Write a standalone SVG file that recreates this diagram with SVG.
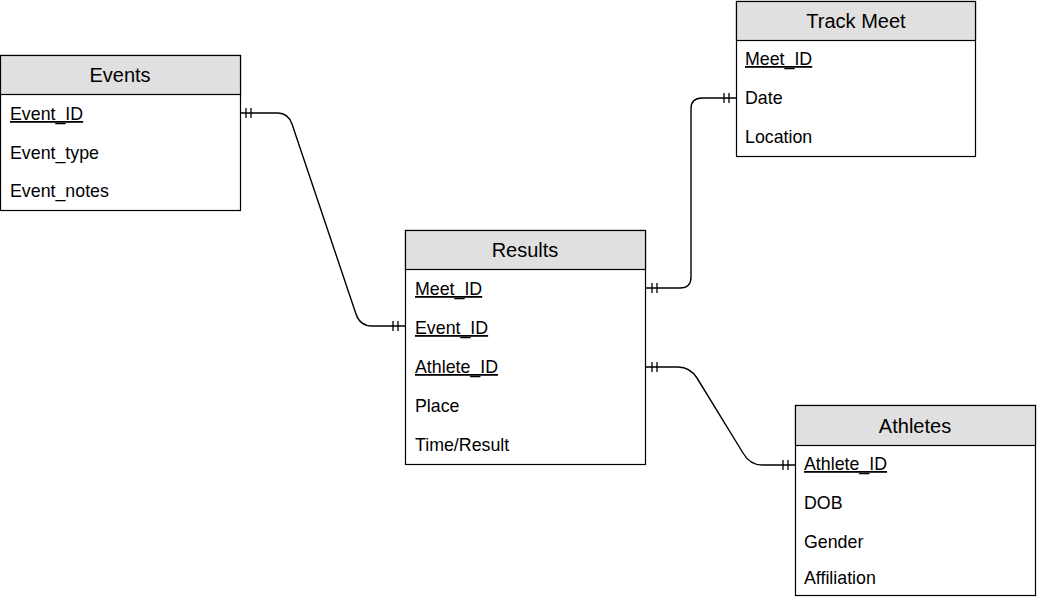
<svg xmlns="http://www.w3.org/2000/svg" width="1037" height="600" viewBox="0 0 1037 600">
<style>
.box{fill:#ffffff;stroke:#000000;stroke-width:1.2}
.hdr{fill:#e0e0e0;stroke:#000000;stroke-width:1.2}
.title{font-family:"Liberation Sans",Arial,sans-serif;font-size:20px;fill:#000;text-anchor:middle}
.fld{font-family:"Liberation Sans",Arial,sans-serif;font-size:17.8px;fill:#000}
.pk{text-decoration:underline}
.conn{fill:none;stroke:#000;stroke-width:1.4}
.bar{stroke:#000;stroke-width:1.3}
</style>
<rect width="1037" height="600" fill="#ffffff"/>
<g id="connectors">
  <path class="conn" d="M240,113 L278,113 Q288,113 292,124 L356,314 Q360,326 372,326 L405,326"/>
  <path class="bar" d="M246,108 V118 M251,108 V118 M393,321 V331 M398,321 V331"/>
  <path class="conn" d="M645,288 L680,288 Q691,288 691,277 L691,109 Q691,98 702,98 L736,98"/>
  <path class="bar" d="M652,283 V293 M657,283 V293 M724,93 V103 M729,93 V103"/>
  <path class="conn" d="M645,367 L678,367 Q690,367 697,378 L743,453 Q750,465 762,465 L795,465"/>
  <path class="bar" d="M652,362 V372 M657,362 V372 M783,460 V470 M788,460 V470"/>
</g>
<g id="events">
  <rect class="box" x="0.5" y="55.5" width="240" height="155"/>
  <rect class="hdr" x="0.5" y="55.5" width="240" height="39"/>
  <text class="title" x="120" y="82">Events</text>
  <text class="fld pk" x="10" y="120">Event_ID</text>
  <text class="fld" x="10" y="159">Event_type</text>
  <text class="fld" x="10" y="197">Event_notes</text>
</g>
<g id="results">
  <rect class="box" x="405.5" y="230.5" width="240" height="234"/>
  <rect class="hdr" x="405.5" y="230.5" width="240" height="39"/>
  <text class="title" x="525" y="257">Results</text>
  <text class="fld pk" x="415" y="295">Meet_ID</text>
  <text class="fld pk" x="415" y="334">Event_ID</text>
  <text class="fld pk" x="415" y="373">Athlete_ID</text>
  <text class="fld" x="415" y="412">Place</text>
  <text class="fld" x="415" y="451">Time/Result</text>
</g>
<g id="trackmeet">
  <rect class="box" x="736.5" y="1.5" width="239" height="155"/>
  <rect class="hdr" x="736.5" y="1.5" width="239" height="39"/>
  <text class="title" x="856" y="28">Track Meet</text>
  <text class="fld pk" x="745" y="65">Meet_ID</text>
  <text class="fld" x="745" y="104">Date</text>
  <text class="fld" x="745" y="143">Location</text>
</g>
<g id="athletes">
  <rect class="box" x="795.5" y="405.5" width="240" height="190"/>
  <rect class="hdr" x="795.5" y="405.5" width="240" height="40"/>
  <text class="title" x="915" y="433">Athletes</text>
  <text class="fld pk" x="804" y="470">Athlete_ID</text>
  <text class="fld" x="804" y="509">DOB</text>
  <text class="fld" x="804" y="548">Gender</text>
  <text class="fld" x="804" y="584">Affiliation</text>
</g>
</svg>
